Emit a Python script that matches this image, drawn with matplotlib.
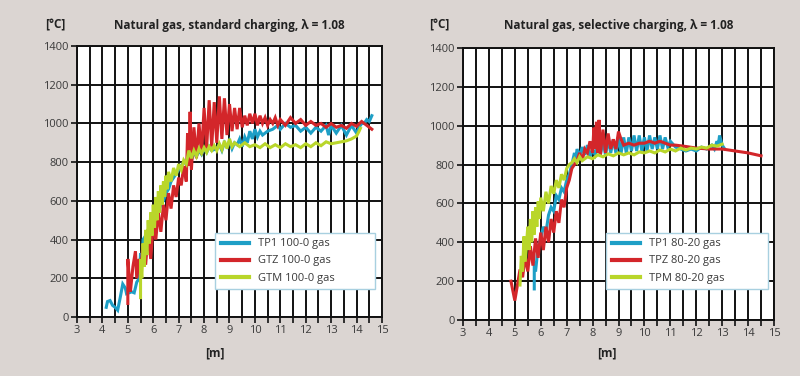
import matplotlib
matplotlib.use("Agg")
import matplotlib.pyplot as plt
from matplotlib.ticker import MultipleLocator

plt.rcParams['font.family'] = ['Open Sans', 'DejaVu Sans']

# ---------------- data: left chart (standard charging) ----------------
tp1_l_x = [4.15, 4.2, 4.3, 4.4, 4.5, 4.6, 4.7, 4.8, 4.9, 4.95, 5.05, 5.15, 5.25, 5.35, 5.45, 5.5, 5.55, 5.6, 5.65, 5.7,
           5.8, 5.9, 6.0, 6.1, 6.2, 6.3, 6.4, 6.5, 6.6, 6.7, 6.8, 6.9, 7.0, 7.1, 7.2, 7.3, 7.4, 7.5, 7.6, 7.7,
           7.8, 7.9, 8.0, 8.1, 8.2, 8.3, 8.5, 8.6, 8.7, 8.8, 8.9, 9.0, 9.1, 9.2, 9.3, 9.4, 9.5, 9.6, 9.7, 9.8,
           9.9, 10.0, 10.1, 10.2, 10.3, 10.5, 10.7, 10.9, 11.0, 11.2, 11.4, 11.6, 11.8, 12.0, 12.2, 12.4, 12.6, 12.8, 12.9, 13.0,
           13.2, 13.4, 13.6, 13.8, 14.0, 14.1, 14.2, 14.3, 14.4, 14.5, 14.6]
tp1_l_y = [50, 80, 85, 60, 50, 35, 100, 170, 150, 120, 125, 130, 125, 180, 200, 330, 280, 400, 410, 360,
           420, 470, 450, 520, 540, 580, 600, 640, 660, 700, 720, 740, 760, 780, 800, 790, 830, 810, 850, 830,
           860, 840, 870, 850, 880, 860, 870, 890, 860, 900, 880, 910, 870, 900, 890, 920, 880, 930, 900, 960,
           920, 970, 930, 960, 940, 960, 970, 990, 970, 1000, 980, 990, 960, 980, 950, 980, 960, 990, 940, 990,
           950, 990, 940, 990, 950, 980, 1000, 1000, 1020, 1010, 1040]

gtz_l_x = [5.0, 5.0, 5.1, 5.2, 5.3, 5.35, 5.45, 5.5, 5.6, 5.7, 5.8, 5.9, 6.0, 6.1, 6.2, 6.3, 6.4, 6.5, 6.6, 6.7,
           6.8, 6.9, 7.0, 7.1, 7.2, 7.3, 7.35, 7.4, 7.45, 7.5, 7.6, 7.7, 7.8, 7.9, 8.0, 8.1, 8.2, 8.3, 8.4, 8.5,
           8.6, 8.7, 8.8, 8.9, 9.0, 9.1, 9.2, 9.3, 9.4, 9.5, 9.6, 9.7, 9.8, 9.9, 10.0, 10.1, 10.2, 10.3, 10.4, 10.5,
           10.6, 10.7, 10.8, 10.9, 11.0, 11.2, 11.4, 11.6, 11.8, 12.0, 12.2, 12.4, 12.6, 12.8, 13.0, 13.2, 13.4, 13.6, 13.8, 14.0,
           14.2, 14.4, 14.6]
gtz_l_y = [70, 300, 130, 260, 340, 200, 300, 230, 380, 270, 430, 300, 480, 400, 540, 440, 580, 500, 640, 560,
           680, 620, 720, 680, 780, 700, 950, 780, 1060, 760, 980, 820, 1000, 840, 1080, 870, 1120, 880, 1110, 900,
           1140, 920, 1130, 940, 1100, 960, 1080, 970, 1080, 980, 1040, 990, 1050, 1000, 1050, 990, 1040, 1000, 1030, 990,
           1020, 1000, 1030, 990, 1020, 990, 1030, 1000, 1020, 990, 1010, 990, 1000, 980, 1000, 980, 990, 975, 1000, 985,
           1010, 990, 970]

gtm_l_x = [5.5, 5.5, 5.55, 5.6, 5.65, 5.7, 5.75, 5.8, 5.85, 5.9, 5.95, 6.0, 6.05, 6.1, 6.15, 6.2, 6.25, 6.3, 6.35, 6.4,
           6.45, 6.5, 6.55, 6.6, 6.7, 6.8, 6.9, 7.0, 7.1, 7.2, 7.3, 7.4, 7.5, 7.6, 7.7, 7.8, 7.9, 8.0, 8.1, 8.2,
           8.3, 8.4, 8.5, 8.6, 8.7, 8.8, 8.9, 9.0, 9.1, 9.2, 9.4, 9.6, 9.8, 10.0, 10.2, 10.4, 10.6, 10.8, 11.0, 11.2,
           11.4, 11.6, 11.8, 12.0, 12.2, 12.4, 12.6, 12.8, 13.0, 13.2, 13.4, 13.6, 13.8, 14.0, 14.1, 14.15]
gtm_l_y = [100, 300, 200, 380, 260, 450, 320, 500, 380, 540, 420, 580, 460, 620, 500, 650, 540, 680, 580, 700,
           620, 730, 660, 750, 700, 770, 730, 790, 760, 810, 790, 860, 820, 860, 830, 870, 845, 875, 850, 880,
           860, 885, 860, 895, 865, 910, 870, 920, 880, 900, 880, 900, 880, 890, 875, 895, 875, 890, 875, 895,
           880, 890, 875, 895, 880, 900, 885, 905, 895, 900, 905, 910, 920, 935, 960, 975]

# ---------------- data: right chart (selective charging) ----------------
tp1_r_x = [5.75, 5.75, 5.8, 5.9, 6.0, 6.1, 6.2, 6.3, 6.4, 6.5, 6.6, 6.7, 6.8, 6.9, 7.0, 7.1, 7.2, 7.3, 7.35, 7.4,
           7.5, 7.6, 7.7, 7.8, 7.9, 8.0, 8.1, 8.2, 8.3, 8.4, 8.5, 8.6, 8.7, 8.8, 8.9, 9.0, 9.1, 9.2, 9.3, 9.4,
           9.5, 9.6, 9.7, 9.8, 9.9, 10.0, 10.1, 10.2, 10.3, 10.4, 10.5, 10.6, 10.7, 10.8, 10.9, 11.0, 11.2, 11.4, 11.6, 11.8,
           12.0, 12.2, 12.4, 12.6, 12.7, 12.8, 12.85, 12.9, 13.0, 13.1]
tp1_r_y = [160, 300, 250, 380, 420, 480, 450, 540, 580, 560, 640, 620, 680, 660, 720, 750, 800, 860, 820, 880,
           840, 890, 850, 900, 840, 880, 850, 900, 850, 920, 850, 930, 860, 930, 860, 940, 860, 940, 860, 940,
           870, 950, 870, 950, 870, 940, 870, 950, 880, 940, 880, 950, 880, 940, 890, 920, 890, 880, 870, 880,
           870, 890, 880, 900, 880, 920, 900, 950, 900, 880]

tpz_r_x = [4.85, 5.0, 5.1, 5.2, 5.3, 5.4, 5.5, 5.6, 5.7, 5.8, 5.9, 6.0, 6.1, 6.2, 6.3, 6.4, 6.5, 6.6, 6.7, 6.8,
           6.9, 7.0, 7.1, 7.2, 7.3, 7.4, 7.5, 7.6, 7.7, 7.8, 7.9, 8.0, 8.05, 8.1, 8.15, 8.2, 8.25, 8.3, 8.4, 8.5,
           8.6, 8.7, 8.8, 8.9, 9.0, 9.1, 9.2, 9.4, 9.6, 9.8, 10.0, 10.2, 10.4, 10.6, 10.8, 11.0, 11.2, 11.5, 12.0, 12.5,
           13.0, 13.5, 14.0, 14.5]
tpz_r_y = [200, 100, 180, 260, 220, 330, 250, 380, 280, 420, 320, 450, 360, 480, 400, 520, 450, 560, 500, 620,
           580, 680, 720, 780, 800, 820, 860, 820, 880, 860, 920, 860, 990, 880, 1020, 860, 1030, 850, 980, 860,
           960, 880, 930, 880, 970, 930, 900, 910, 900, 910, 910, 920, 910, 920, 910, 900, 900, 895, 885, 880,
           880, 870, 860, 845]

tpm_r_x = [5.2, 5.25, 5.3, 5.35, 5.4, 5.5, 5.55, 5.6, 5.65, 5.7, 5.75, 5.8, 5.85, 5.9, 5.95, 6.0, 6.1, 6.2, 6.3, 6.4,
           6.5, 6.6, 6.7, 6.8, 6.9, 7.0, 7.1, 7.2, 7.3, 7.4, 7.5, 7.6, 7.8, 8.0, 8.2, 8.4, 8.6, 8.8, 9.0, 9.2,
           9.4, 9.6, 9.8, 10.0, 10.2, 10.4, 10.6, 10.8, 11.0, 11.2, 11.4, 11.6, 11.8, 12.0, 12.2, 12.4, 12.6, 12.8, 13.0]
tpm_r_y = [180, 330, 250, 430, 300, 480, 360, 520, 400, 560, 440, 580, 480, 610, 520, 630, 560, 660, 600, 690,
           650, 720, 680, 750, 720, 780, 800, 810, 830, 810, 840, 820, 840, 830, 850, 840, 855, 845, 860, 850,
           860, 850, 865, 860, 870, 860, 875, 865, 880, 870, 885, 875, 885, 880, 890, 885, 900, 895, 905]

labels_l = ["TP1 100-0 gas", "GTZ 100-0 gas", "GTM 100-0 gas"]
labels_r = ["TP1 80-20 gas", "TPZ 80-20 gas", "TPM 80-20 gas"]
titles = ["Natural gas, standard charging, λ = 1.08", "Natural gas, selective charging, λ = 1.08"]
xticks = list(range(3, 16))
yticks = list(range(0, 1401, 200))

BG = "#dbd5d2"
C_BLUE = "#1e9fc6"
C_RED = "#d3262a"
C_GREEN = "#b9d62a"
TXT = "#3a3a3a"

fig = plt.figure(figsize=(8.0, 3.76), dpi=100, facecolor=BG)

W, H = 800.0, 376.0
ax_boxes = [(77, 46, 382, 317), (463, 48, 774, 320)]
leg_boxes = [(215, 232, 375, 290), (606, 232, 768, 290)]
title_pos = [(229, 26), (619, 26)]
unit_pos = [(55, 25), (439, 25)]
xlab_pos = [(215, 353), (607, 353)]

series = [
    [(tp1_l_x, tp1_l_y), (gtz_l_x, gtz_l_y), (gtm_l_x, gtm_l_y)],
    [(tp1_r_x, tp1_r_y), (tpz_r_x, tpz_r_y), (tpm_r_x, tpm_r_y)],
]
labels = [labels_l, labels_r]
colors = [C_BLUE, C_RED, C_GREEN]

for i in range(2):
    x0, y0, x1, y1 = ax_boxes[i]
    ax = fig.add_axes([x0 / W, (H - y1) / H, (x1 - x0) / W, (y1 - y0) / H])
    ax.set_facecolor("white")
    ax.set_xlim(3, 15)
    ax.set_ylim(0, 1400)
    ax.set_xticks(xticks)
    ax.xaxis.set_minor_locator(MultipleLocator(0.5))
    ax.set_yticks(yticks)
    ax.grid(True, which="both", axis="x", color="#111111", linewidth=1.4)
    ax.grid(True, which="major", axis="y", color="#111111", linewidth=1.4)
    ax.set_axisbelow(True)
    for s in ax.spines.values():
        s.set_color("#111111")
        s.set_linewidth(1.4)
    ax.tick_params(axis="both", which="major", labelsize=8, colors=TXT, length=4, width=1.2, pad=2)
    ax.tick_params(axis="x", which="minor", length=4, width=1.2, color="#111111")
    ax.tick_params(axis="both", which="major", color="#111111")

    handles = []
    for (xs, ys), c, lab in zip(series[i], colors, labels[i]):
        h, = ax.plot(xs, ys, color=c, linewidth=2.2, label=lab, solid_joinstyle="miter")
        handles.append(h)

    lx0, ly0, lx1, ly1 = leg_boxes[i]
    bb = ((lx0 - x0) / (x1 - x0), (y1 - ly1) / (y1 - y0),
          (lx1 - lx0) / (x1 - x0), (ly1 - ly0) / (y1 - y0))
    leg = ax.legend(handles=handles, loc="center", bbox_to_anchor=bb, mode="expand",
                    fontsize=8, frameon=True, fancybox=False, handlelength=2.6,
                    handletextpad=0.8, borderpad=0.5, labelspacing=0.55, borderaxespad=0)
    leg.get_frame().set_edgecolor("#a8d0e0")
    leg.get_frame().set_linewidth(1.0)
    leg.get_frame().set_facecolor("white")
    leg.get_frame().set_alpha(1)
    for t in leg.get_texts():
        t.set_color(TXT)
    for l in leg.get_lines():
        l.set_linewidth(3)

    fig.text(title_pos[i][0] / W, 1 - title_pos[i][1] / H, titles[i], ha="center", va="center",
             fontsize=8.5, fontweight="bold", color="#222222")
    fig.text(unit_pos[i][0] / W, 1 - unit_pos[i][1] / H, "[°C]", ha="center", va="center",
             fontsize=8.5, fontweight="bold", color="#222222")
    fig.text(xlab_pos[i][0] / W, 1 - xlab_pos[i][1] / H, "[m]", ha="center", va="center",
             fontsize=8.5, fontweight="bold", color="#222222")

fig.savefig("out.png", dpi=100, facecolor=BG)
